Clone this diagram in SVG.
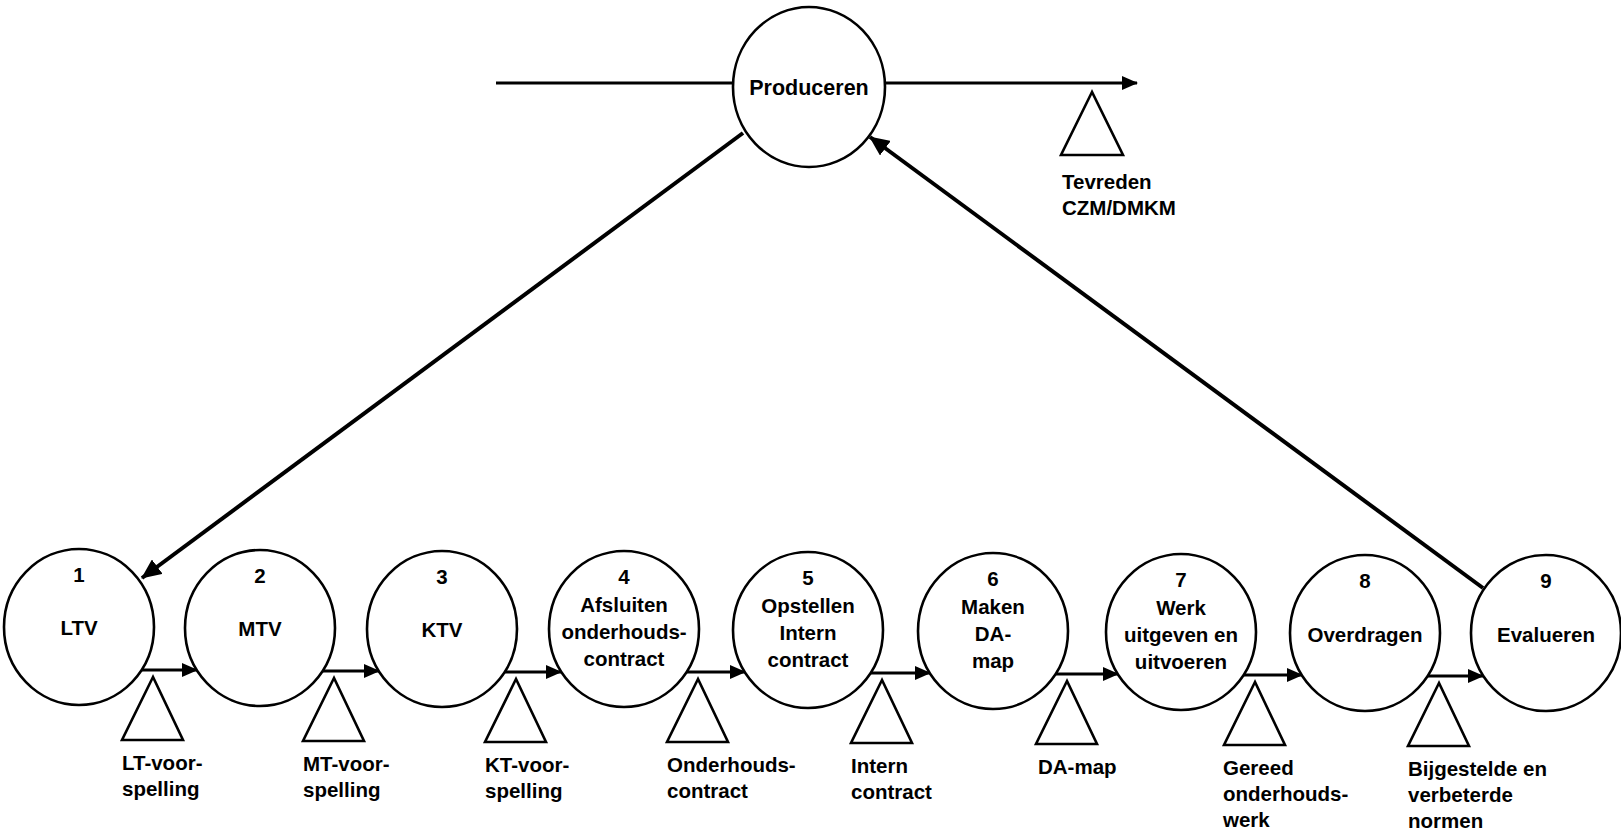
<svg xmlns="http://www.w3.org/2000/svg" width="1621" height="836" viewBox="0 0 1621 836">
  <style>
    .node { fill: #fff; stroke: #000; stroke-width: 2.6; }
    .tri { fill: #fff; stroke: #000; stroke-width: 2.6; stroke-linejoin: miter; }
    .t { font-family: "Liberation Sans", Arial, sans-serif; font-weight: bold; font-size: 20.5px; fill: #000; }
    .c { text-anchor: middle; }
    .flow { stroke: #000; stroke-width: 3; fill: none; }
    .diag { stroke: #000; stroke-width: 4; fill: none; }
  </style>
  <defs>
    <marker id="ah" markerUnits="userSpaceOnUse" markerWidth="16" markerHeight="14" refX="15" refY="7" orient="auto">
      <path d="M0,0 L16,7 L0,14 z" fill="#000"/>
    </marker>
    <marker id="ahBig" markerUnits="userSpaceOnUse" markerWidth="20" markerHeight="18" refX="19" refY="9" orient="auto">
      <path d="M0,0 L20,9 L0,18 z" fill="#000"/>
    </marker>
  </defs>

  <!-- connectors -->
  <g id="connectors">
    <!-- main production line -->
    <line class="flow" x1="496" y1="83" x2="733" y2="83"/>
    <line class="flow" x1="885" y1="83" x2="1137" y2="83" marker-end="url(#ah)"/>
    <!-- Produceren to step 1 -->
    <line class="diag" x1="743" y1="133" x2="142" y2="578" marker-end="url(#ahBig)"/>
    <!-- step 9 back to Produceren -->
    <line class="diag" x1="1483" y1="588" x2="870" y2="137" marker-end="url(#ahBig)"/>
    <!-- step chain -->
    <line class="flow" x1="141" y1="670" x2="197" y2="670" marker-end="url(#ah)"/>
    <line class="flow" x1="322" y1="671" x2="379" y2="671" marker-end="url(#ah)"/>
    <line class="flow" x1="504" y1="672" x2="561" y2="672" marker-end="url(#ah)"/>
    <line class="flow" x1="686" y1="672" x2="745" y2="672" marker-end="url(#ah)"/>
    <line class="flow" x1="870" y1="673" x2="930" y2="673" marker-end="url(#ah)"/>
    <line class="flow" x1="1055" y1="674" x2="1118" y2="674" marker-end="url(#ah)"/>
    <line class="flow" x1="1243" y1="675" x2="1302" y2="675" marker-end="url(#ah)"/>
    <line class="flow" x1="1427" y1="676" x2="1483" y2="676" marker-end="url(#ah)"/>
  </g>

  <!-- central process -->
  <g id="produceren">
    <ellipse class="node" cx="809" cy="87" rx="76" ry="80"/>
    <text class="t c" x="809" y="95" style="font-size:21.5px">Produceren</text>
  </g>
  <g id="out-tevreden" transform="translate(0,83)">
    <polygon class="tri" points="1092,9 1061,72 1123,72"/>
    <text class="t" x="1062" y="106">Tevreden</text>
    <text class="t" x="1062" y="132">CZM/DMKM</text>
  </g>

  <!-- steps -->
  <g id="step1" transform="translate(79,627)">
    <ellipse class="node" rx="75" ry="78"/>
    <text class="t c" y="-45">1</text>
    <text class="t c" y="8">LTV</text>
  </g>
  <g id="step2" transform="translate(260,628)">
    <ellipse class="node" rx="75" ry="78"/>
    <text class="t c" y="-45">2</text>
    <text class="t c" y="8">MTV</text>
  </g>
  <g id="step3" transform="translate(442,629)">
    <ellipse class="node" rx="75" ry="78"/>
    <text class="t c" y="-45">3</text>
    <text class="t c" y="8">KTV</text>
  </g>
  <g id="step4" transform="translate(624,629)">
    <ellipse class="node" rx="75" ry="78"/>
    <text class="t c" y="-45">4</text>
    <text class="t c" y="-17">Afsluiten</text>
    <text class="t c" y="10">onderhouds-</text>
    <text class="t c" y="37">contract</text>
  </g>
  <g id="step5" transform="translate(808,630)">
    <ellipse class="node" rx="75" ry="78"/>
    <text class="t c" y="-45">5</text>
    <text class="t c" y="-17">Opstellen</text>
    <text class="t c" y="10">Intern</text>
    <text class="t c" y="37">contract</text>
  </g>
  <g id="step6" transform="translate(993,631)">
    <ellipse class="node" rx="75" ry="78"/>
    <text class="t c" y="-45">6</text>
    <text class="t c" y="-17">Maken</text>
    <text class="t c" y="10">DA-</text>
    <text class="t c" y="37">map</text>
  </g>
  <g id="step7" transform="translate(1181,632)">
    <ellipse class="node" rx="75" ry="78"/>
    <text class="t c" y="-45">7</text>
    <text class="t c" y="-17">Werk</text>
    <text class="t c" y="10">uitgeven en</text>
    <text class="t c" y="37">uitvoeren</text>
  </g>
  <g id="step8" transform="translate(1365,633)">
    <ellipse class="node" rx="75" ry="78"/>
    <text class="t c" y="-45">8</text>
    <text class="t c" y="9">Overdragen</text>
  </g>
  <g id="step9" transform="translate(1546,633)">
    <ellipse class="node" rx="75" ry="78"/>
    <text class="t c" y="-45">9</text>
    <text class="t c" y="9">Evalueren</text>
  </g>

  <!-- deliverables -->
  <g id="out1" transform="translate(79,670)">
    <polygon class="tri" points="74,7 43,70 104,70"/>
    <text class="t" x="43" y="100">LT-voor-</text>
    <text class="t" x="43" y="126">spelling</text>
  </g>
  <g id="out2" transform="translate(260,671)">
    <polygon class="tri" points="74,7 43,70 104,70"/>
    <text class="t" x="43" y="100">MT-voor-</text>
    <text class="t" x="43" y="126">spelling</text>
  </g>
  <g id="out3" transform="translate(442,672)">
    <polygon class="tri" points="74,7 43,70 104,70"/>
    <text class="t" x="43" y="100">KT-voor-</text>
    <text class="t" x="43" y="126">spelling</text>
  </g>
  <g id="out4" transform="translate(624,672)">
    <polygon class="tri" points="74,7 43,70 104,70"/>
    <text class="t" x="43" y="100">Onderhouds-</text>
    <text class="t" x="43" y="126">contract</text>
  </g>
  <g id="out5" transform="translate(808,673)">
    <polygon class="tri" points="74,7 43,70 104,70"/>
    <text class="t" x="43" y="100">Intern</text>
    <text class="t" x="43" y="126">contract</text>
  </g>
  <g id="out6" transform="translate(993,674)">
    <polygon class="tri" points="74,7 43,70 104,70"/>
    <text class="t" x="45" y="100">DA-map</text>
  </g>
  <g id="out7" transform="translate(1181,675)">
    <polygon class="tri" points="74,7 43,70 104,70"/>
    <text class="t" x="42" y="100">Gereed</text>
    <text class="t" x="42" y="126">onderhouds-</text>
    <text class="t" x="42" y="152">werk</text>
  </g>
  <g id="out8" transform="translate(1365,676)">
    <polygon class="tri" points="74,7 43,70 104,70"/>
    <text class="t" x="43" y="100">Bijgestelde en</text>
    <text class="t" x="43" y="126">verbeterde</text>
    <text class="t" x="43" y="152">normen</text>
  </g>
</svg>
